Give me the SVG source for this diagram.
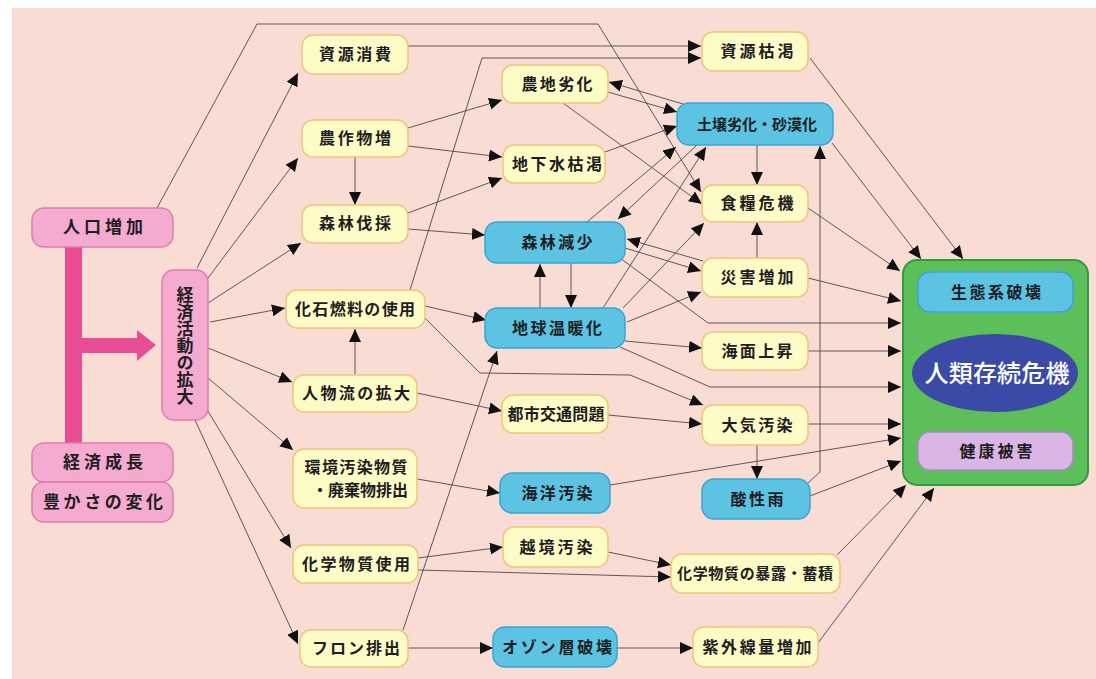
<svg xmlns="http://www.w3.org/2000/svg" width="1096" height="679" viewBox="0 0 1096 679">
<defs>
<marker id="ah" markerUnits="userSpaceOnUse" markerWidth="15" markerHeight="13" refX="13" refY="6" orient="auto" viewBox="0 0 15 13">
<path d="M0,0 L13,6 L0,12 z" fill="#111"/>
</marker>
<style>
.bg{fill:#f9dcd3}
.y{fill:#fdfbc6;stroke:#f0c47c;stroke-width:1.5}
.b{fill:#5cc4e2;stroke:#3aa2d4;stroke-width:1.5}
.p{fill:#f5aacf;stroke:#df7cb0;stroke-width:1.5}
.t{font-family:"Noto Sans CJK JP","Noto Sans CJK SC",sans-serif;font-weight:700;font-size:16px;fill:#1d1d22;text-anchor:middle}
.s{font-size:15px}
.l{font-size:17px}
#conn path{fill:none;stroke:#4a4a4a;stroke-width:0.9;marker-end:url(#ah)}
</style>
</defs>
<rect x="0" y="0" width="1096" height="679" fill="#ffffff"/>
<rect class="bg" x="12" y="8" width="1084" height="671"/>

<g id="bar">
<rect x="65" y="246" width="17" height="198" fill="#e84d96"/>
<rect x="82" y="338" width="55" height="15" fill="#e84d96"/>
<path d="M137,330 L156,345 L137,361 z" fill="#e84d96"/>
</g>

<g id="conn">
<path d="M197,268 L298,73"/>
<path d="M208,278 L298,158"/>
<path d="M208,303 L301,243"/>
<path d="M210,322 L285,308"/>
<path d="M208,348 L292,382"/>
<path d="M208,378 L293,450"/>
<path d="M206,408 L291,548"/>
<path d="M195,420 L298,644"/>
<path d="M157,208 L257,24 L598,24 L701,192"/>
<path d="M408,46 L701,46"/>
<path d="M410,290 L482,58 L701,58"/>
<path d="M408,128 L502,100"/>
<path d="M408,146 L502,157"/>
<path d="M408,213 L502,178"/>
<path d="M408,229 L485,235"/>
<path d="M355,157 L355,205"/>
<path d="M355,375 L355,329"/>
<path d="M425,306 L486,320"/>
<path d="M425,318 L480,373 L630,375 L703,405"/>
<path d="M417,393 L502,411"/>
<path d="M608,415 L702,424"/>
<path d="M417,479 L500,493"/>
<path d="M418,558 L503,547"/>
<path d="M418,570 L671,577"/>
<path d="M608,552 L671,565"/>
<path d="M408,648 L493,648"/>
<path d="M617,648 L693,648"/>
<path d="M403,630 L497,351"/>
<path d="M608,92 L677,112"/>
<path d="M683,104 L609,82"/>
<path d="M605,152 L677,126"/>
<path d="M563,103 L702,204"/>
<path d="M587,222 L676,147"/>
<path d="M697,145 L618,219"/>
<path d="M603,308 L706,147"/>
<path d="M623,308 L704,223"/>
<path d="M627,322 L701,292"/>
<path d="M625,248 L701,271"/>
<path d="M703,261 L627,239"/>
<path d="M620,258 L708,323 L901,323"/>
<path d="M540,308 L540,264"/>
<path d="M571,263 L571,308"/>
<path d="M625,341 L702,348"/>
<path d="M620,347 L710,387 L901,387"/>
<path d="M757,145 L757,185"/>
<path d="M757,258 L757,222"/>
<path d="M757,445 L757,479"/>
<path d="M808,483 L820,472 L820,146"/>
<path d="M810,58 L963,259"/>
<path d="M832,143 L921,259"/>
<path d="M808,208 L900,271"/>
<path d="M808,278 L901,301"/>
<path d="M808,351 L901,351"/>
<path d="M808,424 L901,424"/>
<path d="M610,485 L901,438"/>
<path d="M810,496 L901,461"/>
<path d="M837,555 L906,485"/>
<path d="M818,643 L934,488"/>
</g>

<g id="n-jinko"><rect class="p" x="32" y="208" width="141" height="39" rx="12"/><text class="t l" x="103" y="233" textLength="80" lengthAdjust="spacing">人口増加</text></g>
<g id="n-keizaiseicho"><rect class="p" x="32" y="443" width="141" height="39" rx="12"/><text class="t l" x="103" y="468" textLength="80" lengthAdjust="spacing">経済成長</text></g>
<g id="n-yutakasa"><rect class="p" x="32" y="482" width="141" height="40" rx="12"/><text class="t l" x="103" y="508" textLength="120" lengthAdjust="spacing">豊かさの変化</text></g>
<g id="n-keizaikatsudo"><rect class="p" x="162" y="270" width="46" height="150" rx="12"/><text class="t l" x="185" y="346" writing-mode="tb" letter-spacing="0">経済活動の拡大</text></g>

<g id="n-shigenshohi"><rect class="y" x="302" y="35" width="106" height="39" rx="11"/><text class="t" x="355" y="60" textLength="72" lengthAdjust="spacing">資源消費</text></g>
<g id="n-nousakubutsu"><rect class="y" x="302" y="120" width="106" height="37" rx="11"/><text class="t" x="355" y="144" textLength="72" lengthAdjust="spacing">農作物増</text></g>
<g id="n-shinrinbassai"><rect class="y" x="302" y="205" width="106" height="38" rx="11"/><text class="t" x="355" y="229" textLength="72" lengthAdjust="spacing">森林伐採</text></g>
<g id="n-kaseki"><rect class="y" x="286" y="290" width="139" height="38" rx="11"/><text class="t" x="355" y="315" textLength="120" lengthAdjust="spacing">化石燃料の使用</text></g>
<g id="n-jinbutsuryu"><rect class="y" x="293" y="375" width="124" height="37" rx="11"/><text class="t" x="356" y="399" textLength="108" lengthAdjust="spacing">人物流の拡大</text></g>
<g id="n-kankyo"><rect class="y" x="293" y="449" width="124" height="59" rx="11"/><text class="t" x="356" y="473" textLength="103" lengthAdjust="spacing">環境汚染物質</text><text class="t" x="360" y="496" textLength="96" lengthAdjust="spacing">・廃棄物排出</text></g>
<g id="n-kagakushiyo"><rect class="y" x="293" y="545" width="125" height="38" rx="11"/><text class="t" x="356" y="570" textLength="108" lengthAdjust="spacing">化学物質使用</text></g>
<g id="n-freon"><rect class="y" x="300" y="630" width="108" height="37" rx="11"/><text class="t" x="356" y="654" textLength="88" lengthAdjust="spacing">フロン排出</text></g>

<g id="n-nouchi"><rect class="y" x="502" y="65" width="106" height="38" rx="11"/><text class="t" x="557" y="90" textLength="71" lengthAdjust="spacing">農地劣化</text></g>
<g id="n-chikasui"><rect class="y" x="503" y="145" width="102" height="38" rx="11"/><text class="t" x="557" y="170" textLength="90" lengthAdjust="spacing">地下水枯渇</text></g>
<g id="n-shinringensho"><rect class="b" x="485" y="222" width="140" height="41" rx="12"/><text class="t" x="557" y="248" textLength="71" lengthAdjust="spacing">森林減少</text></g>
<g id="n-ondanka"><rect class="b" x="485" y="308" width="140" height="40" rx="12"/><text class="t" x="557" y="334" textLength="90" lengthAdjust="spacing">地球温暖化</text></g>
<g id="n-toshikotsu"><rect class="y" x="502" y="395" width="106" height="38" rx="11"/><text class="t" x="556" y="420" textLength="97" lengthAdjust="spacing">都市交通問題</text></g>
<g id="n-kaiyo"><rect class="b" x="500" y="473" width="110" height="40" rx="12"/><text class="t" x="557" y="499" textLength="71" lengthAdjust="spacing">海洋汚染</text></g>
<g id="n-ekkyo"><rect class="y" x="503" y="527" width="105" height="40" rx="11"/><text class="t" x="556" y="553" textLength="73" lengthAdjust="spacing">越境汚染</text></g>
<g id="n-ozone"><rect class="b" x="493" y="627" width="124" height="40" rx="12"/><text class="t" x="557" y="653" textLength="110" lengthAdjust="spacing">オゾン層破壊</text></g>

<g id="n-shigenkokatsu"><rect class="y" x="702" y="32" width="106" height="39" rx="11"/><text class="t" x="757" y="57" textLength="73" lengthAdjust="spacing">資源枯渇</text></g>
<g id="n-dojo"><rect class="b" x="677" y="103" width="156" height="42" rx="12"/><text class="t s" x="757" y="130" textLength="120" lengthAdjust="spacing">土壌劣化・砂漠化</text></g>
<g id="n-shokuryo"><rect class="y" x="702" y="185" width="106" height="37" rx="11"/><text class="t" x="757" y="209" textLength="73" lengthAdjust="spacing">食糧危機</text></g>
<g id="n-saigai"><rect class="y" x="702" y="258" width="106" height="39" rx="11"/><text class="t" x="757" y="283" textLength="73" lengthAdjust="spacing">災害増加</text></g>
<g id="n-kaimen"><rect class="y" x="702" y="332" width="106" height="38" rx="11"/><text class="t" x="757" y="357" textLength="71" lengthAdjust="spacing">海面上昇</text></g>
<g id="n-taiki"><rect class="y" x="702" y="405" width="106" height="40" rx="11"/><text class="t" x="757" y="431" textLength="71" lengthAdjust="spacing">大気汚染</text></g>
<g id="n-sanseiu"><rect class="b" x="702" y="479" width="108" height="40" rx="12"/><text class="t" x="757" y="505" textLength="53" lengthAdjust="spacing">酸性雨</text></g>
<g id="n-bakuro"><rect class="y" x="671" y="554" width="169" height="39" rx="11"/><text class="t s" x="755" y="579" textLength="156" lengthAdjust="spacing">化学物質の暴露・蓄積</text></g>
<g id="n-shigaisen"><rect class="y" x="693" y="627" width="125" height="40" rx="11"/><text class="t" x="757" y="653" textLength="109" lengthAdjust="spacing">紫外線量増加</text></g>

<g id="n-result">
<rect x="903" y="260" width="185" height="225" rx="14" fill="#5cbf5a" stroke="#35993f" stroke-width="2"/>
<rect class="b" x="918" y="272" width="155" height="40" rx="12"/>
<text class="t" x="996" y="298" textLength="90" lengthAdjust="spacing">生態系破壊</text>
<ellipse cx="995" cy="373" rx="83" ry="39" fill="#3b4aa6"/>
<text class="t" x="997" y="382" style="font-size:24px;fill:#ffffff;font-weight:500" textLength="145" lengthAdjust="spacing">人類存続危機</text>
<rect x="918" y="432" width="155" height="38" rx="12" fill="#d9b6e6" stroke="#a98bc6" stroke-width="1.5"/>
<text class="t" x="996" y="457" textLength="73" lengthAdjust="spacing">健康被害</text>
</g>
</svg>
